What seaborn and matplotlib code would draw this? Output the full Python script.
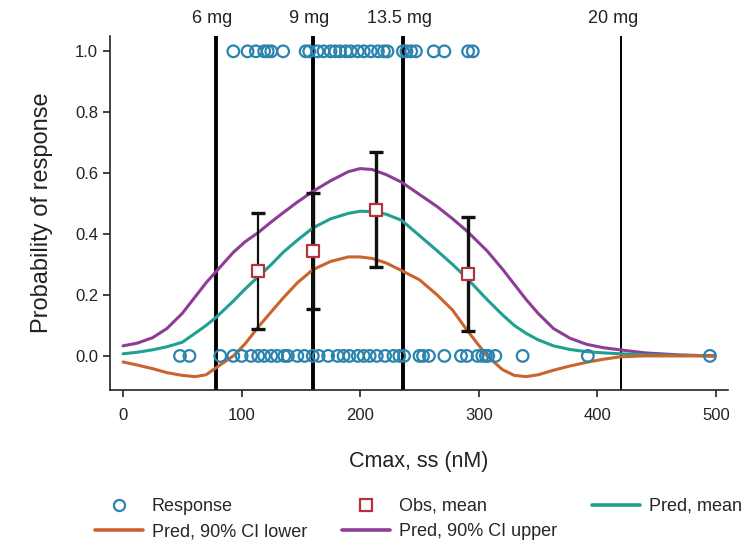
import matplotlib
matplotlib.use("Agg")
import matplotlib.pyplot as plt
from matplotlib.lines import Line2D
import pandas as pd
import seaborn as sns

# observed responses (Cmax,ss in nM)
resp_yes_x = [93, 105, 112, 119, 122, 125, 135, 154, 157, 164, 169, 175, 179, 183,
              188, 192, 198, 203, 209, 215, 220, 223, 236, 239, 243, 247, 262, 271,
              291, 295]
resp_no_x = [48, 56, 82, 93, 100, 108, 114, 119, 125, 130, 136, 139, 147, 153, 160,
             165, 173, 181, 186, 191, 198, 203, 208, 214, 221, 228, 233, 237, 250,
             253, 258, 271, 285, 290, 299, 303, 306, 308, 314, 337, 392, 495]

# binned observed means with 90% CI
obs_x = [114, 160, 213, 291]
obs_mean = [0.28, 0.345, 0.48, 0.27]
obs_lo = [0.089, 0.155, 0.293, 0.082]
obs_hi = [0.47, 0.536, 0.668, 0.457]

# model predictions
curve_x = [0, 12, 25, 37, 50, 61, 70, 78, 93, 103, 114, 125, 135, 147, 160, 175,
           190, 200, 210, 222, 235, 250, 265, 278, 290, 307, 320, 330, 340, 350,
           363, 377, 391, 405, 419, 440, 470, 499]
pred_mean = [0.007, 0.012, 0.02, 0.03, 0.045, 0.075, 0.1, 0.125, 0.18, 0.22, 0.26,
             0.3, 0.34, 0.38, 0.42, 0.45, 0.468, 0.475, 0.474, 0.465, 0.445, 0.395,
             0.345, 0.3, 0.255, 0.185, 0.135, 0.1, 0.074, 0.053, 0.033, 0.021, 0.014,
             0.01, 0.007, 0.004, 0.002, 0.0]
pred_upper = [0.033, 0.042, 0.06, 0.09, 0.14, 0.195, 0.24, 0.275, 0.34, 0.375, 0.405,
              0.44, 0.47, 0.505, 0.54, 0.575, 0.605, 0.615, 0.612, 0.595, 0.57, 0.53,
              0.49, 0.45, 0.41, 0.345, 0.285, 0.235, 0.185, 0.14, 0.09, 0.058, 0.038,
              0.027, 0.02, 0.01, 0.003, 0.0]
pred_lower = [-0.02, -0.03, -0.042, -0.055, -0.064, -0.068, -0.062, -0.04, 0.0, 0.04,
              0.095, 0.145, 0.19, 0.24, 0.283, 0.31, 0.325, 0.325, 0.32, 0.305, 0.28,
              0.25, 0.2, 0.15, 0.085, 0.0, -0.045, -0.064, -0.068, -0.062, -0.047,
              -0.033, -0.021, -0.011, -0.003, 0.0, 0.0, 0.0]

dose_labels = ["6 mg", "9 mg", "13.5 mg", "20 mg"]
dose_x = [78, 160, 236, 420]

C_RESP = "#2a84ad"
C_OBS = "#b3343f"
C_MEAN = "#1fa091"
C_LOW = "#cb632f"
C_UP = "#8d3d95"
INK = "#222222"

sns.set_theme(style="ticks")
plt.rcParams["font.family"] = ["Liberation Sans", "DejaVu Sans"]

fig = plt.figure(figsize=(7.46, 5.42), dpi=100)
ax = fig.add_axes([0.1475, 0.2804, 0.828, 0.653])

resp = pd.DataFrame({
    "x": resp_yes_x + resp_no_x,
    "y": [1.0] * len(resp_yes_x) + [0.0] * len(resp_no_x),
})
sns.scatterplot(data=resp, x="x", y="y", ax=ax, marker="o", s=70,
                facecolors="none", edgecolor=C_RESP, linewidth=1.6, zorder=3)

curves = pd.DataFrame({"x": curve_x, "mean": pred_mean,
                       "lower": pred_lower, "upper": pred_upper})
sns.lineplot(data=curves, x="x", y="upper", ax=ax, color=C_UP, lw=2.2, zorder=2)
sns.lineplot(data=curves, x="x", y="mean", ax=ax, color=C_MEAN, lw=2.2, zorder=2)
sns.lineplot(data=curves, x="x", y="lower", ax=ax, color=C_LOW, lw=2.2, zorder=2)

for lab, xv in zip(dose_labels, dose_x):
    thin = lab == "20 mg"
    ax.axvline(xv, color="black", lw=1.4 if thin else 2.8, zorder=1)
    ax.text(xv - (7 if thin else 3), 1.051, lab, ha="center", va="center",
            fontsize=13, transform=ax.get_xaxis_transform(), color=INK)

# error bars: first bin is drawn thinner in the original
bar_widths = [1.6, 2.4, 2.4, 2.4]
for xv, m, lo, hi, w in zip(obs_x, obs_mean, obs_lo, obs_hi, bar_widths):
    ax.errorbar([xv], [m], yerr=[[m - lo], [hi - m]], fmt="none", ecolor="#111111",
                elinewidth=w, capsize=5, capthick=2.4, zorder=4)
ax.scatter(obs_x, obs_mean, marker="s", s=75, facecolors="white",
           edgecolors=C_OBS, linewidths=1.6, zorder=5)

ax.set_xlim(-11, 510)
ax.set_ylim(-0.112, 1.05)
ax.set_xticks([0, 100, 200, 300, 400, 500])
ax.set_yticks([0.0, 0.2, 0.4, 0.6, 0.8, 1.0])
ax.set_yticklabels([f"{v:.1f}" for v in ax.get_yticks()])
ax.tick_params(axis="both", labelsize=12, length=5, width=1.2,
               colors=INK, direction="out")
ax.tick_params(axis="x", pad=8)
for s in ("top", "right"):
    ax.spines[s].set_visible(False)
for s in ("left", "bottom"):
    ax.spines[s].set_color(INK)
    ax.spines[s].set_linewidth(1.2)

ax.set_xlabel("Cmax, ss (nM)", fontsize=15.5, labelpad=20, color=INK)
ax.set_ylabel("Probability of response", fontsize=17, labelpad=16, color=INK)

h_resp = Line2D([], [], ls="none", marker="o", mfc="none", mec=C_RESP, mew=1.6, ms=8)
h_obs = Line2D([], [], ls="none", marker="s", mfc="none", mec=C_OBS, mew=1.6, ms=8.5)
h_mean = Line2D([], [], color=C_MEAN, lw=2.6)
h_low = Line2D([], [], color=C_LOW, lw=2.6)
h_up = Line2D([], [], color=C_UP, lw=2.6)
fig.legend([h_resp, h_low, h_obs, h_up, h_mean],
           ["Response", "Pred, 90% CI lower", "Obs, mean", "Pred, 90% CI upper",
            "Pred, mean"],
           ncol=3, loc="center", bbox_to_anchor=(0.561, 0.0425), frameon=False,
           fontsize=13, handlelength=2.65, handletextpad=0.5, columnspacing=1.95,
           labelspacing=0.45)

fig.savefig("out.png", dpi=100)
